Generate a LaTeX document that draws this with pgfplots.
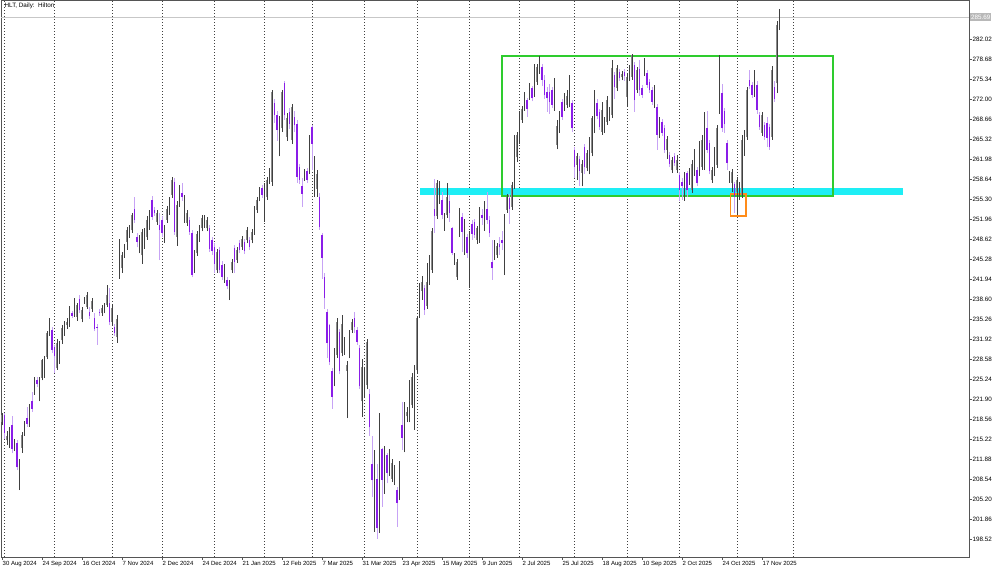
\documentclass[border=0pt]{standalone}
\usepackage{pgfplots}
\pgfplotsset{compat=1.18}
\usepackage{pgfplotstable}
\usepackage{fontspec}
\setmainfont{Liberation Sans}
\definecolor{upbody}{HTML}{8C8C8C}
\definecolor{upwick}{HTML}{404040}
\definecolor{dnbody}{HTML}{8A1DE8}
\definecolor{dnwick}{HTML}{C7A3F5}
\definecolor{boxgreen}{HTML}{2ECC2E}
\definecolor{bandcyan}{HTML}{1EEEF5}
\definecolor{boxorange}{HTML}{FF8C1A}
\definecolor{frame}{HTML}{555555}

\pgfplotstableread{
i o h l c
0 218.0 219.5 217.5 219.2
1 219.2 219.5 215.3 216.2
2 215.0 216.5 214.2 215.8
3 214.5 217.2 213.8 216.5
4 217.5 219.0 212.8 213.5
5 213.8 215.2 213.2 214.6
6 214.6 215.0 210.0 210.5
7 209.5 211.9 206.7 211.7
8 213.7 216.4 212.9 215.9
9 216.2 218.2 215.8 217.8
10 218.7 220.6 217.3 217.8
11 217.8 221.0 217.3 220.6
12 221.5 223.1 219.8 220.3
13 223.1 225.6 222.6 225.3
14 225.1 225.5 223.9 224.4
15 224.2 225.6 221.5 224.5
16 225.4 228.6 225.0 228.4
17 225.8 229.0 225.4 228.6
18 228.9 233.3 228.5 233.0
19 232.9 235.4 232.5 234.3
20 233.4 234.0 229.5 230.1
21 230.5 231.0 226.2 229.0
22 227.0 232.0 226.8 231.2
23 228.4 231.6 227.8 231.0
24 231.7 234.2 231.1 233.8
25 233.0 235.0 232.5 234.5
26 234.2 235.4 233.6 234.7
27 234.5 237.5 234.0 237.0
28 236.2 236.6 235.4 235.8
29 236.3 238.8 235.6 238.2
30 235.6 238.0 235.0 237.6
31 238.6 239.3 236.2 236.7
32 235.3 237.3 234.7 236.8
33 238.1 239.0 237.8 238.6
34 237.3 239.7 236.9 239.2
35 236.5 237.2 235.3 235.8
36 237.0 238.8 236.5 238.3
37 235.4 236.2 233.2 233.6
38 234.0 234.4 231.0 233.8
39 236.4 237.0 235.8 236.2
40 236.2 237.6 235.8 237.1
41 236.7 238.0 236.2 237.6
42 237.6 240.9 237.2 239.3
43 238.0 240.5 234.2 234.7
44 234.7 237.6 234.2 237.1
45 233.9 234.4 232.4 232.9
46 232.2 236.0 231.3 235.3
47 245.1 248.7 242.0 246.2
48 243.7 246.5 243.0 245.9
49 245.9 247.8 245.5 247.3
50 248.2 250.6 246.8 250.1
51 249.3 251.0 248.8 250.4
52 250.1 253.0 249.7 252.6
53 253.7 255.7 251.3 251.8
54 249.0 249.6 247.2 248.2
55 246.8 249.3 246.2 248.5
56 245.9 250.3 244.5 249.8
57 247.6 250.5 247.0 249.8
58 249.0 252.4 248.5 251.8
59 250.7 253.5 250.2 252.9
60 255.1 255.8 251.8 252.3
61 253.5 254.0 252.5 252.9
62 251.5 253.4 251.0 252.9
63 250.9 253.0 245.1 250.1
64 251.8 252.5 249.0 249.6
65 248.5 251.0 248.0 250.4
66 251.8 254.2 251.3 253.7
67 253.2 255.6 252.7 255.1
68 256.0 259.0 255.5 258.5
69 258.2 258.8 249.3 249.8
70 249.0 255.0 247.5 254.3
71 255.5 257.7 254.0 257.1
72 256.3 258.0 255.0 255.7
73 251.8 256.0 251.3 255.4
74 251.3 253.5 250.8 253.0
75 251.8 252.3 249.3 249.8
76 249.7 250.2 242.2 242.6
77 244.5 246.8 243.0 246.2
78 246.2 250.0 245.8 249.5
79 248.7 250.9 248.2 250.4
80 250.4 252.6 249.9 252.1
81 251.0 252.6 250.5 252.1
82 250.4 252.3 249.9 251.8
83 250.4 251.0 246.5 247.0
84 248.5 249.0 246.0 246.6
85 247.3 248.0 243.0 244.5
86 243.4 247.0 243.0 246.5
87 246.8 247.3 242.9 243.4
88 244.3 245.0 241.8 242.3
89 241.8 244.5 241.3 244.0
90 241.8 242.3 240.2 240.7
91 239.8 241.7 238.4 241.2
92 243.4 245.3 242.9 244.8
93 247.1 247.6 242.9 244.8
94 245.1 247.3 244.6 246.8
95 247.9 248.4 246.2 246.8
96 247.3 249.2 246.8 248.7
97 248.2 248.7 246.1 246.6
98 248.4 250.6 247.9 250.1
99 248.4 248.9 246.8 247.3
100 248.4 250.3 247.9 249.8
101 249.8 254.2 249.3 253.7
102 253.5 255.6 253.0 255.1
103 255.4 257.3 254.9 256.8
104 257.1 257.6 255.5 256.0
105 252.1 258.0 251.5 257.2
106 255.7 259.0 255.2 258.5
107 258.2 260.5 257.8 260.1
108 258.2 273.5 257.5 273.2
109 271.3 272.0 268.0 269.3
110 269.3 270.0 265.0 266.8
111 263.2 269.2 262.4 268.8
112 267.1 273.5 266.5 273.2
113 274.6 275.0 268.5 269.3
114 265.7 269.6 265.0 268.8
115 269.9 270.5 267.0 267.9
116 265.2 271.2 264.5 270.7
117 269.0 270.0 266.5 267.6
118 267.9 268.5 258.0 259.0
119 260.7 261.2 257.8 258.5
120 257.5 258.8 254.0 256.2
121 258.8 260.3 258.3 259.9
122 259.9 260.5 258.0 258.5
123 260.1 266.0 259.5 265.4
124 267.4 267.7 260.1 264.5
125 259.0 262.4 255.7 261.5
126 257.0 260.1 255.7 259.5
127 255.7 256.3 250.2 250.7
128 249.3 249.6 242.0 245.5
129 242.3 243.0 237.0 238.7
130 236.5 237.0 228.7 231.2
131 234.2 234.5 227.5 228.1
132 226.5 227.0 220.3 222.3
133 224.2 230.4 224.0 229.5
134 229.3 235.5 228.8 234.8
135 233.1 233.6 226.0 226.5
136 229.5 236.0 229.0 234.5
137 229.8 232.2 229.3 231.7
138 226.6 228.2 218.7 227.6
139 229.2 233.4 228.7 232.9
140 233.4 235.3 232.9 234.8
141 235.5 236.4 233.0 234.0
142 233.4 234.0 231.0 231.5
143 230.4 230.9 223.5 224.0
144 221.5 228.5 218.9 227.3
145 222.8 227.0 222.0 226.5
146 224.2 232.0 223.5 231.5
147 222.8 223.5 215.7 217.3
148 211.1 215.8 205.6 208.3
149 200.3 213.4 199.7 203.1
150 208.6 211.1 198.6 200.3
151 200.6 219.5 199.5 218.9
152 213.6 213.8 203.9 208.4
153 210.9 214.0 206.1 213.6
154 212.5 212.8 207.8 209.5
155 210.3 213.5 209.0 212.8
156 208.6 211.8 208.0 211.2
157 208.6 210.9 207.5 210.3
158 206.7 207.2 200.6 204.5
159 205.9 211.5 205.0 210.6
160 217.6 221.4 213.4 215.4
161 213.6 221.4 213.0 219.8
162 219.0 220.5 218.0 219.8
163 219.2 225.1 218.0 222.0
164 220.9 226.2 220.4 225.6
165 221.5 227.6 216.7 226.2
166 226.7 235.6 226.2 235.4
167 235.9 241.3 235.5 240.9
168 240.0 242.5 238.5 241.5
169 240.5 241.0 236.0 236.8
170 237.5 244.6 237.0 241.5
171 241.5 246.0 241.0 243.8
172 243.5 250.5 243.0 250.0
173 253.7 258.7 249.6 252.4
174 252.4 258.5 252.0 257.9
175 256.5 258.3 254.5 257.2
176 255.1 256.5 252.0 252.6
177 250.4 253.0 250.0 252.6
178 252.6 257.9 252.2 255.7
179 255.0 256.0 251.5 253.0
180 250.4 250.7 245.9 246.2
181 244.8 246.3 244.3 245.9
182 242.3 245.2 241.8 244.8
183 249.6 253.8 249.0 253.2
184 252.3 253.0 246.5 249.8
185 246.5 252.0 246.0 250.9
186 249.0 249.5 245.5 246.2
187 245.0 250.0 240.4 249.6
188 251.2 251.8 248.5 249.5
189 251.5 252.0 248.8 249.3
190 248.5 250.8 247.8 250.4
191 250.1 254.0 248.0 252.9
192 252.6 253.7 251.0 252.1
193 251.2 255.0 250.0 253.7
194 253.7 256.5 251.2 251.8
195 251.8 252.5 249.0 249.6
196 244.8 248.4 241.8 243.7
197 246.2 248.4 245.1 247.2
198 246.0 248.0 245.5 247.5
199 247.8 249.0 246.0 247.2
200 248.4 250.0 246.7 247.9
201 243.4 252.8 242.6 252.3
202 253.5 256.2 253.0 255.7
203 255.4 256.2 251.2 253.7
204 254.0 258.2 253.5 257.6
205 257.4 266.0 257.0 265.7
206 262.3 266.5 261.5 266.0
207 265.1 270.0 264.5 269.6
208 268.5 270.9 268.0 270.4
209 270.4 273.2 270.0 272.9
210 271.8 272.2 269.0 270.4
211 272.4 274.6 271.9 274.3
212 273.8 274.2 271.6 272.1
213 272.9 277.8 272.4 277.4
214 274.9 277.8 274.4 277.4
215 276.6 279.2 276.2 278.8
216 277.4 277.8 274.1 275.2
217 275.2 276.0 272.0 272.7
218 273.2 274.0 269.9 272.1
219 273.2 274.5 269.5 271.5
220 273.5 274.0 270.5 271.0
221 270.7 275.5 270.0 274.9
222 264.3 268.5 263.6 267.5
223 266.8 270.0 266.3 269.6
224 271.5 272.0 268.5 269.0
225 270.4 273.0 270.0 272.6
226 271.0 273.5 270.5 272.5
227 271.1 276.0 270.6 273.2
228 271.3 271.8 266.5 267.1
229 263.5 264.0 258.8 260.7
230 261.0 263.0 258.5 262.4
231 262.0 262.5 257.4 260.0
232 259.6 261.8 257.4 261.2
233 264.0 264.5 259.5 260.7
234 260.4 263.4 259.9 262.9
235 259.9 265.7 259.4 265.1
236 262.9 269.2 262.4 268.8
237 266.8 273.5 266.3 273.2
238 271.3 272.0 268.6 269.1
239 269.9 270.4 266.9 267.4
240 266.5 271.5 266.0 270.2
241 266.8 269.0 266.3 268.5
242 268.2 272.5 267.7 271.8
243 268.8 270.7 268.3 270.2
244 269.3 278.5 268.8 277.1
245 276.0 276.5 272.0 274.0
246 273.8 277.6 273.3 277.1
247 276.5 277.0 275.0 275.5
248 275.6 276.7 275.1 276.2
249 276.5 277.0 275.0 275.8
250 272.4 276.2 270.7 275.7
251 275.5 277.6 275.0 277.1
252 275.7 279.5 275.2 279.3
253 277.7 278.2 269.9 271.8
254 273.5 277.3 273.0 276.8
255 277.0 278.5 272.5 273.5
256 273.8 274.3 272.2 272.7
257 276.3 278.8 275.8 278.5
258 276.3 276.8 273.8 274.3
259 274.9 275.4 273.0 273.5
260 273.5 274.0 271.0 271.5
261 271.0 274.3 270.5 273.8
262 270.7 271.2 263.5 266.0
263 266.0 269.0 265.5 268.5
264 268.2 268.7 265.8 266.3
265 267.1 267.6 263.0 263.5
266 263.5 265.9 262.0 265.4
267 262.6 263.1 260.7 261.2
268 260.1 262.3 259.6 261.8
269 262.4 262.9 260.8 261.3
270 260.1 262.6 259.6 261.8
271 259.3 259.8 255.0 256.8
272 258.2 258.8 255.1 257.4
273 257.4 259.8 255.0 259.3
274 259.6 260.0 255.6 256.8
275 258.2 260.4 257.7 259.9
276 256.8 261.8 256.3 261.2
277 259.6 263.7 259.1 263.2
278 260.1 260.6 257.4 257.9
279 259.6 265.0 259.1 264.0
280 260.7 266.0 260.2 265.1
281 260.7 269.9 260.2 267.9
282 267.1 270.0 263.0 263.5
283 264.6 265.1 259.4 259.9
284 258.5 260.6 258.0 260.1
285 259.6 264.0 259.1 263.5
286 261.0 267.6 260.5 267.1
287 270.2 279.3 269.5 274.8
288 273.0 274.5 266.5 267.1
289 270.0 270.5 266.3 267.9
290 264.6 265.1 260.1 261.3
291 258.5 260.0 258.0 259.5
292 258.0 260.3 256.5 259.8
293 257.8 258.2 253.0 255.7
294 256.5 258.9 252.8 258.4
295 255.7 258.1 255.2 257.6
296 256.0 266.0 255.5 265.1
297 263.0 266.8 262.5 266.3
298 265.7 274.0 265.2 273.5
299 275.1 276.8 273.6 274.1
300 274.3 274.8 272.2 272.7
301 272.9 276.9 272.4 274.3
302 274.3 275.0 269.5 270.2
303 269.3 269.8 266.9 267.4
304 266.3 269.8 265.8 269.3
305 267.6 268.1 265.2 265.7
306 268.0 269.0 264.0 265.5
307 267.3 267.8 263.5 264.0
308 265.7 277.5 265.2 276.8
309 274.0 275.0 271.5 272.0
310 274.6 285.0 273.0 284.4
311 284.4 287.1 283.5 285.7
}\candles

\pgfplotsset{
  updays/.style={restrict expr to domain={\thisrow{c}-\thisrow{o}}{0:1000}},
  downdays/.style={restrict expr to domain={\thisrow{c}-\thisrow{o}}{-1000:-0.00001}},
  candlepart/.style 2 args={draw=none, mark=none, forget plot, #1,
    error bars/.cd, y dir=plus, y explicit, error mark=none,
    error bar style={#2}},
}

\begin{document}
\begin{tikzpicture}
\begin{axis}[
  at={(1pt,15pt)}, anchor=south west,
  scale only axis, width=968pt, height=557pt,
  xmin=-0.4, xmax=386.8, ymin=195.514, ymax=288.533,
  clip=false,
  axis line style={draw=frame, line width=0.8pt},
  tick align=outside, major tick length=3pt,
  tick style={draw=frame, line width=0.6pt},
  xtick pos=bottom, ytick pos=right, yticklabel pos=right,
  xtick={0,16,32,48,64,80,96,112,128,144,160,176,192,208,224,240,256,272,288,304},
  xticklabels={30 Aug 2024,24 Sep 2024,16 Oct 2024,7 Nov 2024,2 Dec 2024,24 Dec 2024,21 Jan 2025,12 Feb 2025,7 Mar 2025,31 Mar 2025,23 Apr 2025,15 May 2025,9 Jun 2025,2 Jul 2025,25 Jul 2025,18 Aug 2025,10 Sep 2025,2 Oct 2025,24 Oct 2025,17 Nov 2025},
  xticklabel style={anchor=north west, inner sep=0pt, xshift=0.5pt, yshift=-1pt, font=\fontsize{6}{7}\selectfont, text=black},
  ytick={198.52,201.86,205.20,208.54,211.88,215.22,218.56,221.90,225.24,228.58,231.92,235.26,238.60,241.94,245.28,248.62,251.96,255.30,258.64,261.98,265.32,268.66,272.00,275.34,278.68,282.02},
  yticklabels={198.52,201.86,205.20,208.54,211.88,215.22,218.56,221.90,225.24,228.58,231.92,235.26,238.60,241.94,245.28,248.62,251.96,255.30,258.64,261.98,265.32,268.66,272.00,275.34,278.68,282.02},
  yticklabel style={anchor=west, inner sep=0pt, xshift=0.5pt, font=\fontsize{6.3}{7}\selectfont, text=black},
  extra x ticks={1,21,44,64,85,105,124,145,166,187,207,229,250,271,294,316.4},
  extra x tick labels={},
  extra x tick style={grid=major, major tick length=0pt,
    major grid style={draw=black!75, line width=0.7pt, dash pattern=on 1pt off 2pt}},
]
% current price line
\addplot[draw=black!22, line width=0.8pt, mark=none] coordinates {(-0.4,285.69) (386.8,285.69)};
% zones
\fill[bandcyan] (axis cs:167.2,255.97) rectangle (axis cs:360.4,257.13);
\draw[boxgreen, line width=1.5pt] (axis cs:200,255.8) rectangle (axis cs:332.4,279.18);
\draw[boxorange, line width=1.5pt] (axis cs:291.3,252.5) rectangle (axis cs:297.6,256.1);
% down candles: wick then body
\addplot[candlepart={downdays}{draw=dnwick, line width=0.9pt}]
  table[x=i, y=l, y error expr=\thisrow{h}-\thisrow{l}] {\candles};
\addplot[candlepart={downdays}{draw=dnbody, line width=1.9pt}]
  table[x=i, y=c, y error expr=\thisrow{o}-\thisrow{c}] {\candles};
% up candles: body then wick
\addplot[candlepart={updays}{draw=upbody, line width=1.9pt}]
  table[x=i, y=o, y error expr=\thisrow{c}-\thisrow{o}] {\candles};
\addplot[candlepart={updays}{draw=upwick, line width=0.8pt}]
  table[x=i, y=l, y error expr=\thisrow{h}-\thisrow{l}] {\candles};
% title
\node[anchor=north west, inner sep=0pt, font=\fontsize{6.3}{7}\selectfont] at (axis cs:1,288.0) {HLT, Daily:\ \ Hilton};
% price label
\node[anchor=west, fill=black!28, inner xsep=1pt, inner ysep=1.5pt, font=\fontsize{6.3}{7}\selectfont, text=white] at (axis cs:387.2,285.69) {285.69};
\end{axis}
\pgfresetboundingbox
\path[use as bounding box] (0pt,0pt) rectangle (1000pt,572pt);
\end{tikzpicture}
\end{document}
